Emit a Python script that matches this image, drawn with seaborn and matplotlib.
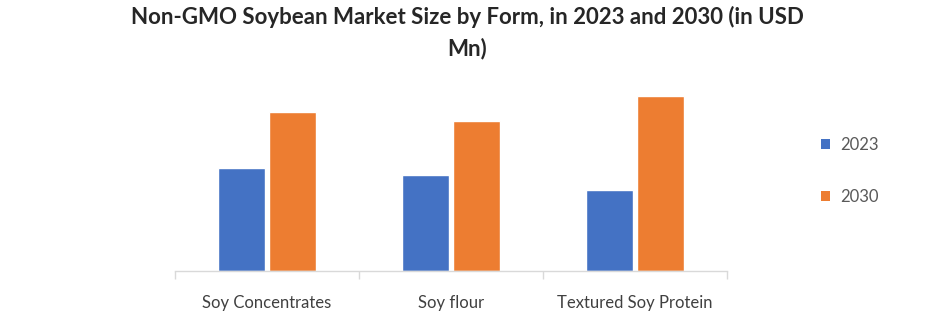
import matplotlib
matplotlib.use("Agg")
import matplotlib.pyplot as plt
import seaborn as sns
import pandas as pd
from matplotlib.patches import Patch
from matplotlib.ticker import FixedLocator

categories = ["Soy Concentrates", "Soy flour", "Textured Soy Protein"]
years = ["2023", "2030"]
values_2023 = [103, 96, 81]
values_2030 = [159, 150, 175]
colors = ["#4472C4", "#ED7D31"]

df = pd.DataFrame({
    "Form": categories * 2,
    "Year": [years[0]] * 3 + [years[1]] * 3,
    "Value": values_2023 + values_2030,
})

sns.set_theme(style="white")
plt.rcParams['font.family'] = ['Lato', 'DejaVu Sans']

fig = plt.figure(figsize=(9.35, 3.11), dpi=100)
ax = fig.add_axes([175/935, 40/311, 552/935, (271-88)/311])

sns.barplot(data=df, x="Form", y="Value", hue="Year", palette=colors,
            width=0.55, gap=0.06, ax=ax, legend=False, saturation=1)

ax.set_xlim(-0.5, 2.5)
ax.set_ylim(0, 183)
ax.set_xlabel("")
ax.set_ylabel("")
ax.set_yticks([])
for s in ["top", "right", "left"]:
    ax.spines[s].set_visible(False)
ax.spines["bottom"].set_color("#d9d9d9")
ax.spines["bottom"].set_linewidth(1)
ax.tick_params(axis="x", which="major", bottom=False, length=0, pad=17,
               labelsize=12, labelcolor="#404040")
ax.xaxis.set_minor_locator(FixedLocator([-0.5, 0.5, 1.5, 2.5]))
ax.tick_params(axis="x", which="minor", bottom=True, length=6, color="#d9d9d9", width=1)

fig.suptitle("Non-GMO Soybean Market Size by Form, in 2023 and 2030 (in USD\nMn)",
             fontsize=16, fontweight="bold", y=0.98, x=0.5, linespacing=1.55)

handles = [Patch(facecolor=c, edgecolor="none") for c in colors]
fig.legend(handles, years, loc="center left", bbox_to_anchor=(806/935, 1-171/311),
           frameon=False, handlelength=0.55, handleheight=0.55, handletextpad=0.6,
           labelspacing=2.2, fontsize=12, labelcolor="#595959")

fig.savefig("out.png", dpi=100)
